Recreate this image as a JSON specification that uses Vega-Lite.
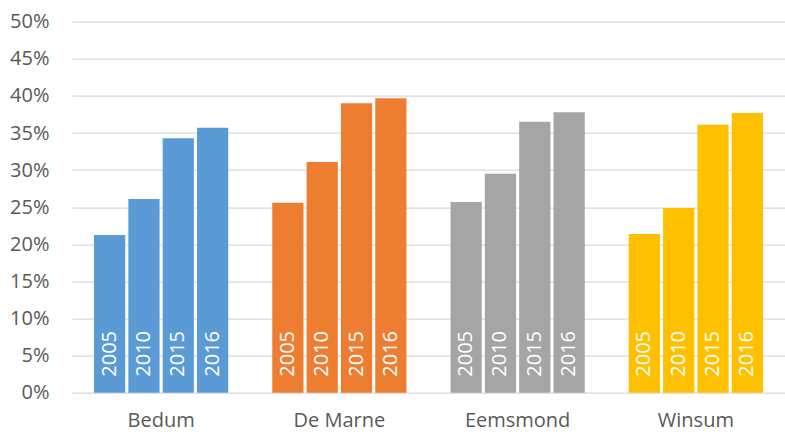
{
  "$schema": "https://vega.github.io/schema/vega-lite/v6.json",
  "autosize": {"type": "none"},
  "padding": {"left": 72, "top": 21.7, "right": 0, "bottom": 41.3},
  "width": 713,
  "height": 371,
  "config": {
    "view": {"stroke": null},
    "font": "Open Sans",
    "axisY": {
      "title": null,
      "format": ".0%",
      "values": [0, 0.05, 0.1, 0.15, 0.2, 0.25, 0.3, 0.35, 0.4, 0.45, 0.5],
      "labelOverlap": false,
      "grid": true,
      "gridColor": "#D9D9D9",
      "gridWidth": 1.2,
      "domain": false,
      "ticks": false,
      "labelFontSize": 20,
      "labelColor": "#595959",
      "labelPadding": 23
    }
  },
  "data": {
    "values": [
      {"gemeente": "Bedum", "jaar": "2005", "waarde": 0.2125},
      {"gemeente": "Bedum", "jaar": "2010", "waarde": 0.261},
      {"gemeente": "Bedum", "jaar": "2015", "waarde": 0.343},
      {"gemeente": "Bedum", "jaar": "2016", "waarde": 0.357},
      {"gemeente": "De Marne", "jaar": "2005", "waarde": 0.256},
      {"gemeente": "De Marne", "jaar": "2010", "waarde": 0.311},
      {"gemeente": "De Marne", "jaar": "2015", "waarde": 0.390},
      {"gemeente": "De Marne", "jaar": "2016", "waarde": 0.397},
      {"gemeente": "Eemsmond", "jaar": "2005", "waarde": 0.257},
      {"gemeente": "Eemsmond", "jaar": "2010", "waarde": 0.295},
      {"gemeente": "Eemsmond", "jaar": "2015", "waarde": 0.365},
      {"gemeente": "Eemsmond", "jaar": "2016", "waarde": 0.378},
      {"gemeente": "Winsum", "jaar": "2005", "waarde": 0.214},
      {"gemeente": "Winsum", "jaar": "2010", "waarde": 0.249},
      {"gemeente": "Winsum", "jaar": "2015", "waarde": 0.361},
      {"gemeente": "Winsum", "jaar": "2016", "waarde": 0.377}
    ]
  },
  "encoding": {
    "x": {
      "field": "gemeente",
      "type": "nominal",
      "sort": ["Bedum", "De Marne", "Eemsmond", "Winsum"],
      "scale": {"paddingInner": 0.247, "paddingOuter": 0.1235},
      "axis": {
        "title": null,
        "labelAngle": 0,
        "domain": false,
        "ticks": false,
        "labelFontSize": 20,
        "labelColor": "#595959",
        "labelPadding": 18
      }
    },
    "xOffset": {
      "field": "jaar",
      "type": "nominal",
      "scale": {"paddingInner": 0.09, "paddingOuter": 0}
    }
  },
  "layer": [
    {
      "mark": {"type": "bar"},
      "encoding": {
        "y": {
          "field": "waarde",
          "type": "quantitative",
          "scale": {"domain": [0, 0.5], "nice": false}
        },
        "color": {
          "field": "gemeente",
          "type": "nominal",
          "scale": {
            "domain": ["Bedum", "De Marne", "Eemsmond", "Winsum"],
            "range": ["#5B9BD5", "#ED7D31", "#A5A5A5", "#FFC000"]
          },
          "legend": null
        }
      }
    },
    {
      "mark": {
        "type": "text",
        "angle": 270,
        "align": "left",
        "baseline": "middle",
        "dx": 16,
        "color": "white",
        "fontSize": 20
      },
      "encoding": {
        "y": {"datum": 0, "type": "quantitative"},
        "text": {"field": "jaar"}
      }
    }
  ]
}
